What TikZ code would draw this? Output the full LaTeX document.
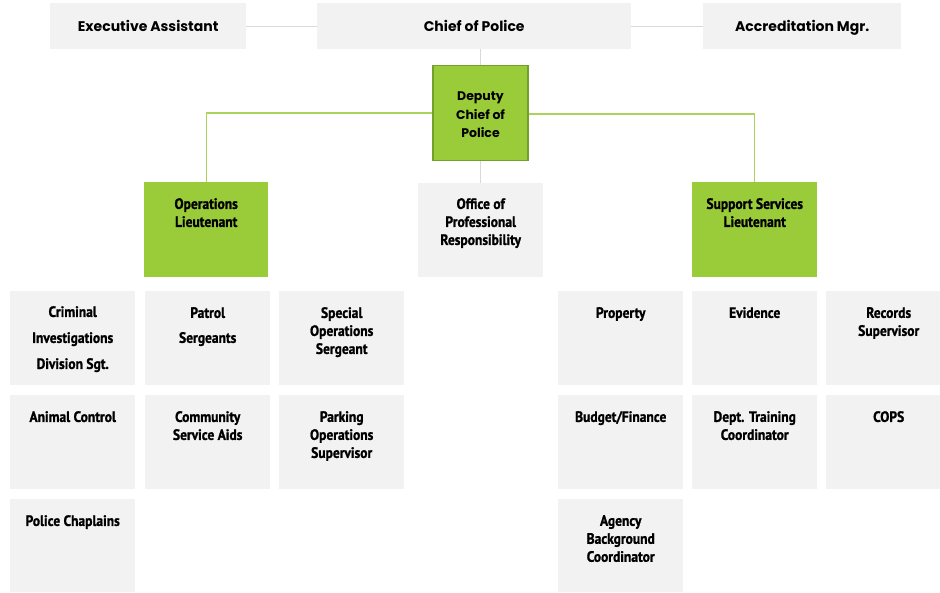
\documentclass[tikz,border=0pt]{standalone}
\usepackage{fontspec}
\usetikzlibrary{calc}
\newfontfamily\gothic{Poppins}
\newfontfamily\cond{PT Sans}[FakeStretch=0.9, BoldFeatures={FakeBold=1.2}]
\definecolor{boxgray}{HTML}{F2F2F2}
\definecolor{linegray}{HTML}{D9D9D9}
\definecolor{lgreen}{HTML}{9ACB38}
\definecolor{dgreen}{HTML}{73A02C}
\definecolor{cgreen}{HTML}{A9D35A}
\tikzset{
  boxnode/.style={rectangle, fill=boxgray, inner sep=0pt, anchor=north west,
    minimum width=125pt, minimum height=94pt},
  greenbox/.style={boxnode, fill=lgreen},
  topbox/.style={boxnode, minimum height=46pt},
  toptext/.style={font=\gothic\bfseries\fontsize{14}{16}\selectfont, inner sep=0pt, anchor=base},
  lbl/.style={font=\cond\bfseries\fontsize{15}{18}\selectfont, align=center, inner sep=0pt, anchor=north},
  grayline/.style={draw=linegray, line width=1.2pt},
  greenline/.style={draw=cgreen, line width=1.2pt},
}
\begin{document}
\begin{tikzpicture}[x=1pt, y=-1pt]
\clip (0,0) rectangle (940,592);
\fill[white] (0,0) rectangle (940,592);
% top row
\node[topbox, minimum width=196pt] (ea) at (50,3) {};
\node[topbox, minimum width=314pt] (cop) at (317,3) {};
\node[topbox, minimum width=198pt] (acc) at (703,3) {};
\node[toptext] (ea-t) at ($(ea.center)+(0,5.5)$) {Executive Assistant};
\node[toptext] (cop-t) at ($(cop.center)+(0,5.5)$) {Chief of Police};
\node[toptext] (acc-t) at ($(acc.center)+(0,5.5)$) {Accreditation Mgr.};
\draw[grayline] (ea.east) -- (cop.west);
\draw[grayline] (cop.east) -- (acc.west);
% deputy
\node[rectangle, fill=lgreen, draw=dgreen, line width=1.2pt, minimum width=95pt, minimum height=95pt, inner sep=0pt] (dep) at (480.5,113) {};
\node[font=\gothic\bfseries\fontsize{12.5}{18.5}\selectfont, align=center, inner sep=0pt] (dep-t) at ($(dep.center)+(0,2)$) {Deputy\\Chief of\\Police};
% second level
\node[greenbox, minimum width=124pt, minimum height=95pt] (ops) at (144,182) {};
\node[boxnode, minimum height=94pt] (opr) at (418,183) {};
\node[greenbox, minimum height=95pt] (ssl) at (692,182) {};
\node[lbl] (ops-t) at ($(ops.north)+(0,16)$) {Operations\\Lieutenant};
\node[lbl] (opr-t) at ($(opr.north)+(0,15)$) {Office of\\Professional\\Responsibility};
\node[lbl] (ssl-t) at ($(ssl.north)+(0,16)$) {Support Services\\Lieutenant};
% connectors
\draw[grayline] (cop.south -| dep.north) -- (dep.north);
\draw[grayline] (dep.south) -- (dep.south |- opr.north);
\draw[greenline] (dep.west) -| (ops.north);
\draw[greenline] ($(dep.east)+(0,1)$) -| (ssl.north);
% grid
\node[boxnode] (cid) at (10,291) {};
\node[boxnode] (pat) at (145,291) {};
\node[boxnode] (sos) at (279,291) {};
\node[boxnode] (ani) at (10,395) {};
\node[boxnode] (csa) at (145,395) {};
\node[boxnode] (pos) at (279,395) {};
\node[boxnode, minimum height=93pt] (chp) at (10,499) {};
\node[boxnode] (prop) at (558,291) {};
\node[boxnode] (evi) at (692,291) {};
\node[boxnode] (rec) at (826,291) {};
\node[boxnode] (bud) at (558,395) {};
\node[boxnode] (dtc) at (692,395) {};
\node[boxnode] (cops) at (826,395) {};
\node[boxnode, minimum height=93pt] (abc) at (558,499) {};
\node[lbl] (cid-t) at ($(cid.north)+(0,15)$) {Criminal\\[8pt]Investigations\\[8pt]Division Sgt.};
\node[lbl] (pat-t) at ($(pat.north)+(0,16)$) {Patrol\\[7pt]Sergeants};
\node[lbl] (sos-t) at ($(sos.north)+(0,16)$) {Special\\Operations\\Sergeant};
\node[lbl] (ani-t) at ($(ani.north)+(0,16)$) {Animal Control};
\node[lbl] (csa-t) at ($(csa.north)+(0,16)$) {Community\\Service Aids};
\node[lbl] (pos-t) at ($(pos.north)+(0,16)$) {Parking\\Operations\\Supervisor};
\node[lbl] (chp-t) at ($(chp.north)+(0,16)$) {Police Chaplains};
\node[lbl] (prop-t) at ($(prop.north)+(0,16)$) {Property};
\node[lbl] (evi-t) at ($(evi.north)+(0,16)$) {Evidence};
\node[lbl] (rec-t) at ($(rec.north)+(0,16)$) {Records\\Supervisor};
\node[lbl] (bud-t) at ($(bud.north)+(0,16)$) {Budget/Finance};
\node[lbl] (dtc-t) at ($(dtc.north)+(0,16)$) {Dept. Training\\Coordinator};
\node[lbl] (cops-t) at ($(cops.north)+(0,16)$) {COPS};
\node[lbl] (abc-t) at ($(abc.north)+(0,16)$) {Agency\\Background\\Coordinator};
\end{tikzpicture}
\end{document}
